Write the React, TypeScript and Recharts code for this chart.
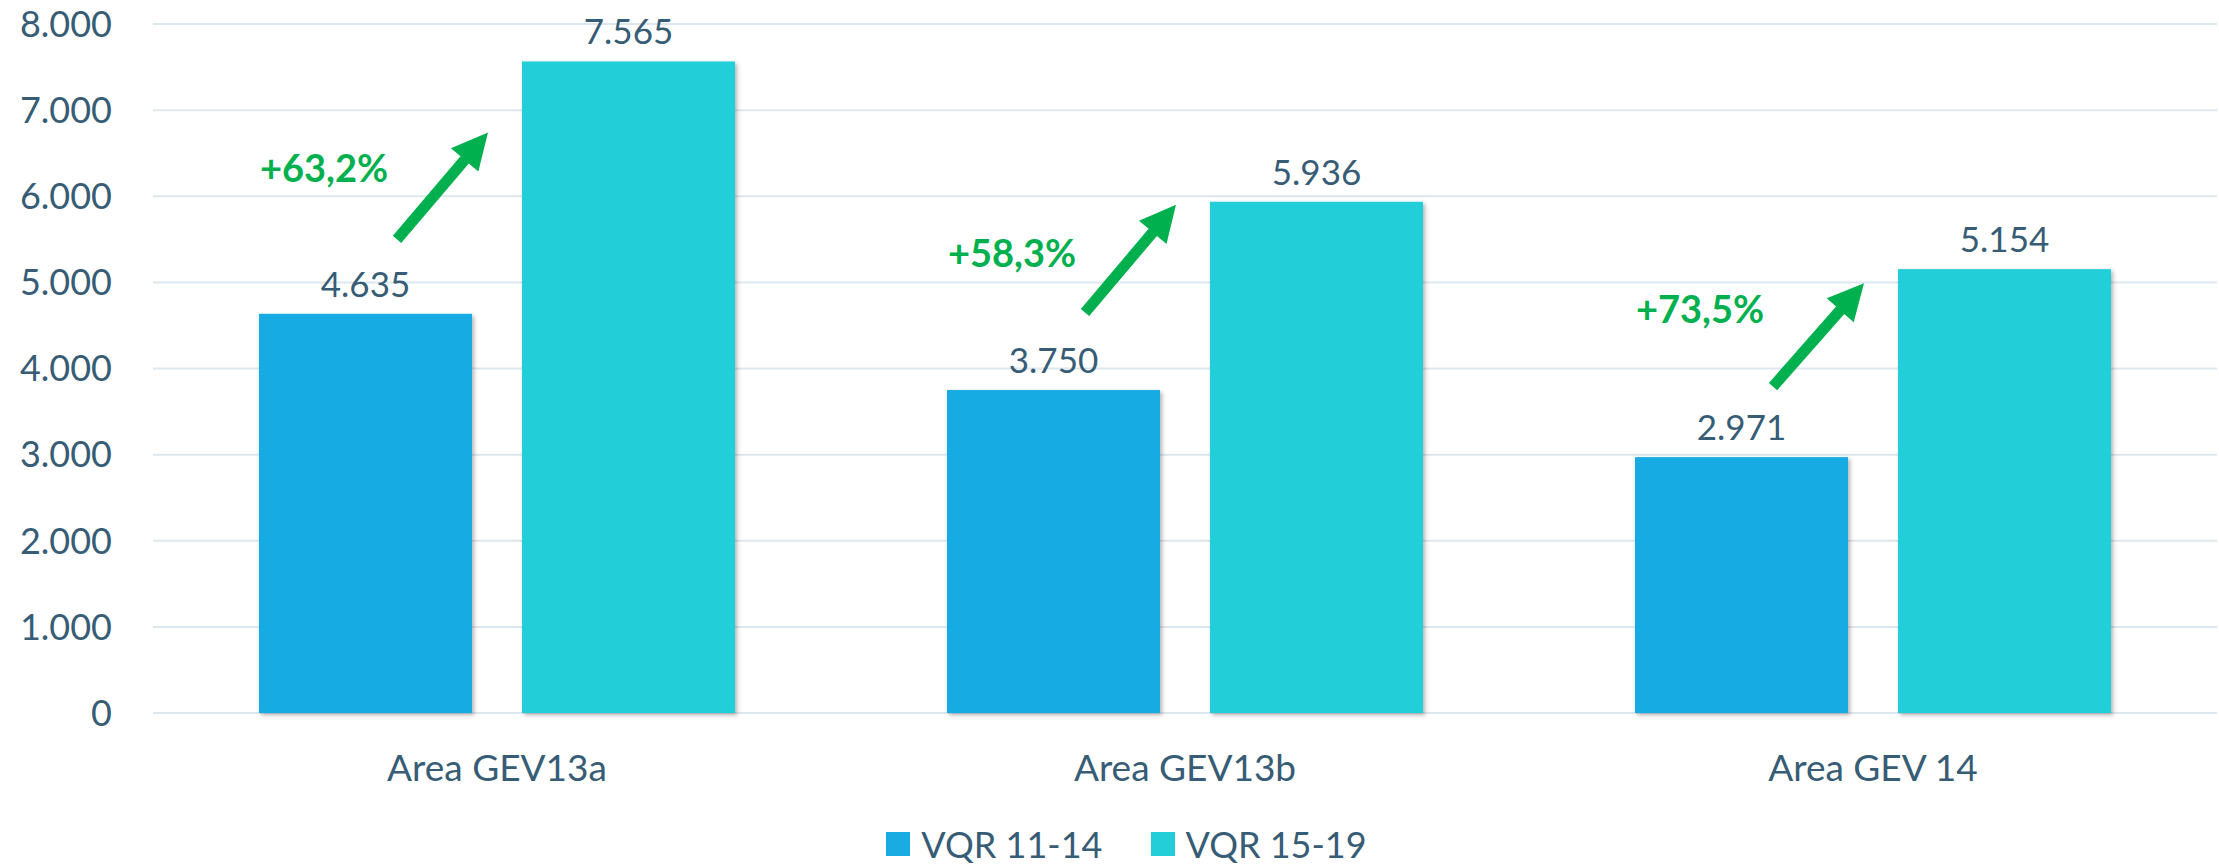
import { Bar, BarChart, CartesianGrid, LabelList, Legend, XAxis, YAxis } from "recharts";

const categories = ["Area GEV13a", "Area GEV13b", "Area GEV 14"];
const seriesNames = ["VQR 11-14", "VQR 15-19"];
const vqr1114 = [4635, 3750, 2971];
const vqr1519 = [7565, 5936, 5154];
const yTicks = [0, 1000, 2000, 3000, 4000, 5000, 6000, 7000, 8000];

// growth annotations, anchored in value units
const growthLabels = ["+63,2%", "+58,3%", "+73,5%"];
const growthLabelAt = [6170, 5180, 4530];
const arrowFrom = [5500, 4650, 3790];
const arrowTo = [6740, 5900, 4990];

const data = categories.map((name, i) => ({ name, a: vqr1114[i], b: vqr1519[i] }));

const TEXT = "#375c75";
const GREEN = "#00b04f";
const BLUE = "#19ace3";
const CYAN = "#23ced8";
const FONT = "Lato, 'Open Sans', sans-serif";
const BAR_SIZE = 213;
const BAR_GAP = 50;

function fmt(v: number) {
  return String(v).replace(/\B(?=(\d{3})+(?!\d))/g, ".");
}

function box(props: any) {
  const vb = props.viewBox && props.viewBox.width != null ? props.viewBox : props;
  return { x: Number(vb.x), y: Number(vb.y), width: Number(vb.width), height: Number(vb.height) };
}

function ValueLabel(props: any) {
  const { x, y, width } = box(props);
  return (
    <text x={x + width / 2} y={y - 17} textAnchor="middle" fontSize={35} fontFamily={FONT} fill={TEXT}>
      {fmt(Number(props.value))}
    </text>
  );
}

function arrowPoints(x1: number, y1: number, x2: number, y2: number) {
  const len = Math.hypot(x2 - x1, y2 - y1);
  const ux = (x2 - x1) / len;
  const uy = (y2 - y1) / len;
  const px = -uy;
  const py = ux;
  const shaft = 11;
  const head = 36;
  const headLen = 36;
  const bx = x2 - ux * headLen;
  const by = y2 - uy * headLen;
  const pts = [
    [x1 + (px * shaft) / 2, y1 + (py * shaft) / 2],
    [bx + (px * shaft) / 2, by + (py * shaft) / 2],
    [bx + (px * head) / 2, by + (py * head) / 2],
    [x2, y2],
    [bx - (px * head) / 2, by - (py * head) / 2],
    [bx - (px * shaft) / 2, by - (py * shaft) / 2],
    [x1 - (px * shaft) / 2, y1 - (py * shaft) / 2],
  ];
  return pts.map((p) => p.join(",")).join(" ");
}

function GrowthMark(props: any) {
  const { x, y, width, height } = box(props);
  const i = Number(props.index);
  const zeroY = y + height;
  const k = height / vqr1114[i];
  const toY = (v: number) => zeroY - v * k;
  const center = x + width + BAR_GAP / 2;
  return (
    <g>
      <polygon points={arrowPoints(center - 100, toY(arrowFrom[i]), center - 9, toY(arrowTo[i]))} fill={GREEN} />
      <text
        x={center - 173}
        y={toY(growthLabelAt[i])}
        textAnchor="middle"
        fontSize={38}
        fontWeight={700}
        fontFamily={FONT}
        fill={GREEN}
      >
        {growthLabels[i]}
      </text>
    </g>
  );
}

function ShadowBar(props: any) {
  const { x, y, width, height, fill } = props;
  if (!height) return null;
  return <rect x={x} y={y} width={width} height={height} fill={fill} filter="url(#barShadow)" />;
}

function LegendBox() {
  const colors = [BLUE, CYAN];
  return (
    <div
      style={{
        height: 66,
        boxSizing: "border-box",
        paddingTop: 22,
        paddingLeft: 36,
        display: "flex",
        justifyContent: "center",
        alignItems: "center",
        gap: 48,
        fontFamily: FONT,
        fontSize: 36,
        color: TEXT,
      }}
    >
      {seriesNames.map((n, i) => (
        <div key={n} style={{ display: "flex", alignItems: "center", gap: 11 }}>
          <span style={{ width: 24, height: 24, background: colors[i], display: "inline-block" }} />
          <span>{n}</span>
        </div>
      ))}
    </div>
  );
}

export default function App() {
  return (
    <div style={{ position: "absolute", left: 0, top: 0, background: "#fff" }}>
      <BarChart
        width={2219}
        height={866}
        data={data}
        margin={{ top: 24, right: 2, left: 0, bottom: 0 }}
        barGap={BAR_GAP}
      >
        <defs>
          <filter id="barShadow" x="-10%" y="-10%" width="125%" height="125%">
            <feDropShadow dx="2" dy="2" stdDeviation="2" floodColor="#000" floodOpacity="0.3" />
          </filter>
        </defs>
        <CartesianGrid vertical={false} stroke="#dde7ef" strokeWidth={2} />
        <XAxis
          dataKey="name"
          height={87}
          axisLine={false}
          tickLine={false}
          tickSize={0}
          tickMargin={42}
          tick={{ fill: TEXT, fontSize: 37, fontFamily: FONT }}
        />
        <YAxis
          width={153}
          domain={[0, 8000]}
          ticks={yTicks}
          axisLine={false}
          tickLine={false}
          tickSize={0}
          tickMargin={41}
          tickFormatter={fmt}
          tick={{ fill: TEXT, fontSize: 36, fontFamily: FONT }}
        />
        <Legend verticalAlign="bottom" content={() => <LegendBox />} />
        <Bar dataKey="a" name={seriesNames[0]} fill={BLUE} barSize={BAR_SIZE} shape={ShadowBar} isAnimationActive={false}>
          <LabelList dataKey="a" content={ValueLabel} />
          <LabelList dataKey="a" content={GrowthMark} />
        </Bar>
        <Bar dataKey="b" name={seriesNames[1]} fill={CYAN} barSize={BAR_SIZE} shape={ShadowBar} isAnimationActive={false}>
          <LabelList dataKey="b" content={ValueLabel} />
        </Bar>
      </BarChart>
    </div>
  );
}
